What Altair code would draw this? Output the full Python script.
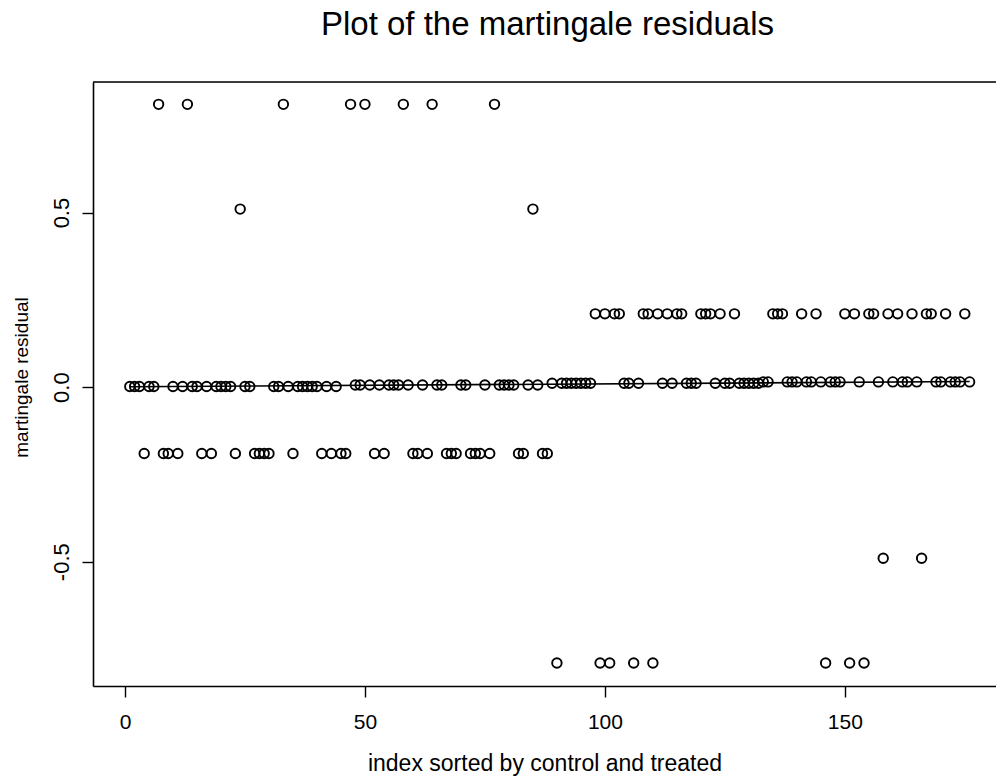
import altair as alt
import pandas as pd

# ---- data ----
# control group (index 1-88)
POS_081_IDX = [7, 13, 33, 47, 50, 58, 64, 77]
POS_081_Y = 0.81
POS_051_IDX = [24, 85]
POS_051_Y = 0.51
NEG_019_IDX = [4, 8, 9, 11, 16, 18, 23, 27, 28, 29, 30, 35, 41, 43, 45, 46, 52, 54,
               60, 61, 63, 67, 68, 69, 72, 73, 74, 76, 82, 83, 87, 88]
NEG_019_Y = -0.19
ZERO_A_IDX = [1, 2, 3, 5, 6, 10, 12, 14, 15, 17, 19, 20, 21, 22, 25, 26, 31, 32, 34,
              36, 37, 38, 39, 40, 42, 44]
ZERO_A_Y = 0.002
ZERO_B_IDX = [48, 49, 51, 53, 55, 56, 57, 59, 62, 65, 66, 70, 71, 75, 78, 79, 80, 81,
              84, 86]
ZERO_B_Y = 0.006
# treated group (index 89-176)
POS_021_IDX = [98, 100, 102, 103, 108, 109, 111, 113, 115, 116, 120, 121, 122, 124,
               127, 135, 136, 137, 141, 144, 150, 152, 155, 156, 159, 161, 164, 167,
               168, 171, 175]
POS_021_Y = 0.21
NEG_049_IDX = [158, 166]
NEG_049_Y = -0.49
NEG_079_IDX = [90, 99, 101, 106, 110, 146, 151, 154]
NEG_079_Y = -0.79
ZERO_C_IDX = [89, 91, 92, 93, 94, 95, 96, 97, 104, 105, 107, 112, 114, 117, 118, 119,
              123, 125, 126, 128, 129, 130, 131, 132]
ZERO_C_Y = 0.011
ZERO_D_IDX = [133, 134, 138, 139, 140, 142, 143, 145, 147, 148, 149, 153, 157, 160,
              162, 163, 165, 169, 170, 172, 173, 174, 176]
ZERO_D_Y = 0.015

# fitted line through the residuals
LINE_X = [1, 176]
LINE_Y = [0.001, 0.016]

X_TICKS = [0, 50, 100, 150]
Y_TICKS = [-0.5, 0.0, 0.5]

groups = [
    (POS_081_IDX, POS_081_Y), (POS_051_IDX, POS_051_Y), (NEG_019_IDX, NEG_019_Y),
    (ZERO_A_IDX, ZERO_A_Y), (ZERO_B_IDX, ZERO_B_Y), (POS_021_IDX, POS_021_Y),
    (NEG_049_IDX, NEG_049_Y), (NEG_079_IDX, NEG_079_Y), (ZERO_C_IDX, ZERO_C_Y),
    (ZERO_D_IDX, ZERO_D_Y),
]
rows = []
for idxs, val in groups:
    for i in idxs:
        rows.append({"index": i, "resid": val})
pts = pd.DataFrame(rows).sort_values("index")
line_df = pd.DataFrame({"index": LINE_X, "resid": LINE_Y})

W, H = 903, 604
FONT = "Liberation Sans"

xscale = alt.Scale(domain=[-6.67, 181.5], nice=False, zero=False)
yscale = alt.Scale(domain=[-0.856, 0.874], nice=False, zero=False)

xaxis = alt.Axis(values=X_TICKS, format="d", title="index sorted by control and treated",
                 grid=False, tickSize=11, tickWidth=1.4, tickColor="black",
                 domainColor="black", domainWidth=1.6,
                 labelFont=FONT, labelFontSize=21, labelColor="black", labelPadding=14,
                 titleFont=FONT, titleFontSize=23, titleFontWeight="normal",
                 titleColor="black", titlePadding=20)
yaxis = alt.Axis(values=Y_TICKS,
                 labelExpr="datum.value < 0 ? '-' + format(-datum.value, '.1f') : format(datum.value, '.1f')",
                 title="martingale residual", grid=False, tickSize=11, tickWidth=1.4,
                 tickColor="black", domainColor="black", domainWidth=1.6,
                 labelAngle=-90, labelAlign="center", labelBaseline="bottom",
                 labelFont=FONT, labelFontSize=22, labelColor="black", labelPadding=9,
                 titleFont=FONT, titleFontSize=19, titleFontWeight="normal",
                 titleColor="black", titlePadding=19, titleY=295)

points = alt.Chart(pts).mark_point(shape="circle", filled=False, color="black",
                                   size=90, strokeWidth=1.9, opacity=1).encode(
    x=alt.X("index:Q", scale=xscale, axis=xaxis),
    y=alt.Y("resid:Q", scale=yscale, axis=yaxis),
)
line = alt.Chart(line_df).mark_line(color="black", strokeWidth=1.6).encode(
    x=alt.X("index:Q", scale=xscale),
    y=alt.Y("resid:Q", scale=yscale),
)
top_border = alt.Chart(pd.DataFrame({"a": [0]})).mark_rule(
    color="black", strokeWidth=1.6).encode(
    x=alt.value(0), x2=alt.value(W), y=alt.value(0))

chart = alt.layer(line, points, top_border).properties(
    width=W, height=H,
    title=alt.Title("Plot of the martingale residuals", font=FONT, fontSize=33,
                    fontWeight="normal", color="black", anchor="middle",
                    baseline="alphabetic", offset=13, dx=3),
    autosize=alt.AutoSizeParams(type="none"),
    padding={"left": 93, "top": 82, "right": 0, "bottom": 95},
).configure_view(stroke=None).configure(background="white")

chart.save("out.html", embed_options={"renderer": "svg", "actions": False})
